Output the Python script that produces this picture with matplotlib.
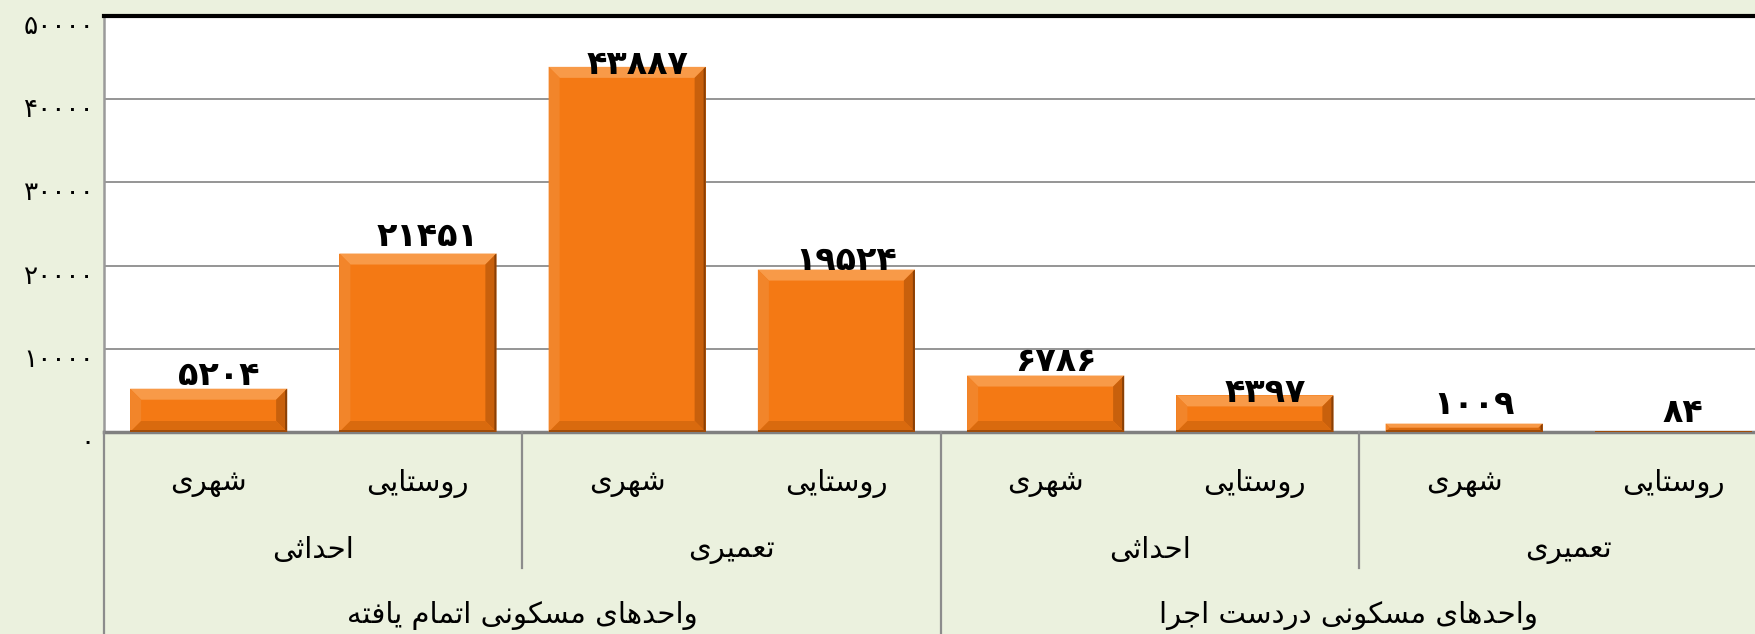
import matplotlib
matplotlib.use("Agg")
import matplotlib.pyplot as plt
from matplotlib.patches import Polygon
from matplotlib import transforms
from matplotlib.lines import Line2D

# ---------------- data ----------------
level1 = ["شهری", "روستایی", "شهری", "روستایی", "شهری", "روستایی", "شهری", "روستایی"]
level2 = ["احداثی", "تعمیری", "احداثی", "تعمیری"]
level3 = ["واحدهای مسکونی اتمام یافته", "واحدهای مسکونی دردست اجرا"]
values = [5204, 21451, 43887, 19524, 6786, 4397, 1009, 84]
yticks = [0, 10000, 20000, 30000, 40000, 50000]
# manual label offsets (px) of the label baseline above the bar top
label_dy_px = [4, 8, -7, 0, 5, -7, 10, 9]

# ---------------- Persian shaping helpers ----------------
FORMS = {  # isolated, final, initial, medial
    'ا': ('\uFE8D', '\uFE8E', None, None),
    'ب': ('\uFE8F', '\uFE90', '\uFE91', '\uFE92'),
    'ت': ('\uFE95', '\uFE96', '\uFE97', '\uFE98'),
    'ث': ('\uFE99', '\uFE9A', '\uFE9B', '\uFE9C'),
    'ج': ('\uFE9D', '\uFE9E', '\uFE9F', '\uFEA0'),
    'ح': ('\uFEA1', '\uFEA2', '\uFEA3', '\uFEA4'),
    'د': ('\uFEA9', '\uFEAA', None, None),
    'ر': ('\uFEAD', '\uFEAE', None, None),
    'س': ('\uFEB1', '\uFEB2', '\uFEB3', '\uFEB4'),
    'ش': ('\uFEB5', '\uFEB6', '\uFEB7', '\uFEB8'),
    'ع': ('\uFEC9', '\uFECA', '\uFECB', '\uFECC'),
    'ف': ('\uFED1', '\uFED2', '\uFED3', '\uFED4'),
    'م': ('\uFEE1', '\uFEE2', '\uFEE3', '\uFEE4'),
    'ن': ('\uFEE5', '\uFEE6', '\uFEE7', '\uFEE8'),
    'ه': ('\uFEE9', '\uFEEA', '\uFEEB', '\uFEEC'),
    'و': ('\uFEED', '\uFEEE', None, None),
    'ک': ('\uFB8E', '\uFB8F', '\uFB90', '\uFB91'),
    'ی': ('\uFBFC', '\uFBFD', '\uFBFE', '\uFBFF'),
}


def dual(c):
    return c in FORMS and FORMS[c][2] is not None


def joins(c):
    return c in FORMS


def shape(text):
    out = []
    n = len(text)
    for i, c in enumerate(text):
        if c not in FORMS:
            out.append(c)
            continue
        prev = text[i - 1] if i > 0 else ' '
        nxt = text[i + 1] if i < n - 1 else ' '
        jp = dual(prev)
        jn = dual(c) and joins(nxt)
        iso, fin, ini, med = FORMS[c]
        if jp and jn:
            out.append(med)
        elif jp:
            out.append(fin)
        elif jn:
            out.append(ini)
        else:
            out.append(iso)
    return ''.join(out)[::-1]


def fa_digits(v):
    return str(v).translate(str.maketrans('0123456789', '۰۱۲۳۴۵۶۷۸۹'))


# ---------------- figure ----------------
W, H = 1756, 634
DPI = 100
BG = '#EBF1DE'
fig = plt.figure(figsize=(W / DPI, H / DPI), dpi=DPI, facecolor=BG)

slot = 209.25
left_px, top_px, bot_px = 104, 16, 432
ax = fig.add_axes([left_px / W, (H - bot_px) / H, 8 * slot / W, (bot_px - top_px) / H])
ax.set_facecolor('white')
n = len(values)
ax.set_xlim(-0.5, n - 0.5)
ax.set_ylim(0, 50000)

fontfam = ['DejaVu Sans']

# grid
for t in yticks[1:-1]:
    ax.axhline(t, color='#8C8C8C', lw=1.3, zorder=1)

ax.spines['right'].set_visible(False)
ax.spines['top'].set_color('black')
ax.spines['top'].set_linewidth(3)
ax.spines['left'].set_color('#9A9A9A')
ax.spines['left'].set_linewidth(1.8)
ax.spines['bottom'].set_color('#808080')
ax.spines['bottom'].set_linewidth(2.5)

ax.set_xticks([])
ax.set_yticks(yticks)
ax.set_yticklabels([fa_digits(t) for t in yticks], family=fontfam, fontsize=19)
ax.tick_params(axis='y', length=0, pad=7)
off = transforms.ScaledTranslation(0, -8 / DPI, fig.dpi_scale_trans)
for lab in ax.get_yticklabels():
    lab.set_transform(lab.get_transform() + off)

# bars
xs = list(range(n))
bw = 157 / slot
FACE = '#F47914'
bars = ax.bar(xs, values, width=bw, color=FACE, edgecolor='none', zorder=2)

px_x = 1.0 / slot
px_y = 50000.0 / (bot_px - top_px)
for r in bars:
    x0, y0 = r.get_x(), r.get_y()
    w, h = r.get_width(), r.get_height()
    x1, y1 = x0 + w, y0 + h
    hpx = h / px_y
    b = min(11.0, hpx / 2.0)
    bx, by = b * px_x, b * px_y
    polys = [
        ([(x0, y1), (x1, y1), (x1 - bx, y1 - by), (x0 + bx, y1 - by)], '#F89A48'),   # top
        ([(x0, y0), (x0, y1), (x0 + bx, y1 - by), (x0 + bx, y0 + by)], '#F2852A'),   # left
        ([(x1, y0), (x1, y1), (x1 - bx, y1 - by), (x1 - bx, y0 + by)], '#C8600C'),   # right
        ([(x0, y0), (x1, y0), (x1 - bx, y0 + by), (x0 + bx, y0 + by)], '#D96A0E'),   # bottom
    ]
    for pts, col in polys:
        ax.add_patch(Polygon(pts, closed=True, facecolor=col, edgecolor='none', zorder=3))
    ax.add_patch(Polygon([(x1 - 2 * px_x, y0), (x1, y0), (x1, y1), (x1 - 2 * px_x, y1 - 2 * px_y)],
                         closed=True, facecolor='#8A4006', edgecolor='none', zorder=4))
    ax.add_patch(Polygon([(x0, y0), (x1, y0), (x1, y0 + min(2 * px_y, h)), (x0, y0 + min(2 * px_y, h))],
                         closed=True, facecolor='#A04C08', edgecolor='none', zorder=4))

# value labels
for i, (v, dy) in enumerate(zip(values, label_dy_px)):
    t = ax.text(i, v, fa_digits(v), ha='center', va='baseline', fontsize=24,
                fontweight='bold', family=fontfam, color='black', zorder=6)
    t.set_transform(ax.transData + transforms.ScaledTranslation(10 / DPI, dy / DPI, fig.dpi_scale_trans))

# multi-level category axis
bt = transforms.blended_transform_factory(ax.transData, fig.transFigure)


def fy(ypx):
    return (H - ypx) / H


CAT_FS = 21
for i, lab in enumerate(level1):
    fig.text(i, fy(483), shape(lab), transform=bt, ha='center', va='center',
             fontsize=CAT_FS, family=fontfam, color='black')
for j, lab in enumerate(level2):
    fig.text(2 * j + 0.5, fy(550), shape(lab), transform=bt, ha='center', va='center',
             fontsize=CAT_FS, family=fontfam, color='black')
vis_end = (W - left_px) / slot - 0.5
for k, lab in enumerate(level3):
    a, e = 4 * k - 0.5, min(4 * k + 3.5, vis_end)
    fig.text((a + e) / 2, fy(615), shape(lab), transform=bt, ha='center', va='center',
             fontsize=CAT_FS, family=fontfam, color='black')

SEP = '#8C8C8C'
for xb, yend in [(-0.5, H), (1.5, 568), (3.5, H), (5.5, 568)]:
    fig.add_artist(Line2D([xb, xb], [fy(bot_px), fy(yend)], transform=bt, color=SEP, lw=1.6))

fig.savefig('out.png', dpi=DPI, facecolor=BG)
